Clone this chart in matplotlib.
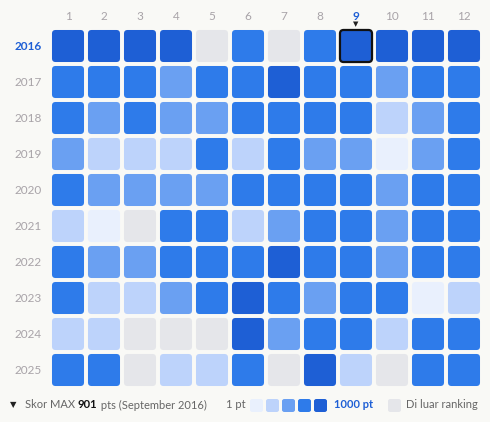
import matplotlib
matplotlib.use("Agg")
import matplotlib.pyplot as plt
from matplotlib.patches import FancyBboxPatch
import numpy as np

plt.rcParams['font.family'] = ['Lato', 'DejaVu Sans']
years = [2016, 2017, 2018, 2019, 2020, 2021, 2022, 2023, 2024, 2025]
months = [1, 2, 3, 4, 5, 6, 7, 8, 9, 10, 11, 12]
# level 0 = outside ranking, 1..5 = score bins (1 pt .. 1000 pt)
levels = [
    [5, 5, 5, 5, 0, 4, 0, 4, 5, 5, 5, 5],
    [4, 4, 4, 3, 4, 4, 5, 4, 4, 3, 4, 4],
    [4, 3, 4, 3, 3, 4, 4, 4, 4, 2, 3, 4],
    [3, 2, 2, 2, 4, 2, 4, 3, 3, 1, 3, 4],
    [4, 3, 3, 3, 3, 4, 4, 4, 4, 3, 4, 4],
    [2, 1, 0, 4, 4, 2, 3, 4, 4, 3, 4, 4],
    [4, 3, 3, 4, 4, 4, 5, 4, 4, 3, 4, 4],
    [4, 2, 2, 3, 4, 5, 4, 3, 4, 4, 1, 2],
    [2, 2, 0, 0, 0, 5, 3, 4, 4, 2, 4, 4],
    [4, 4, 0, 2, 2, 4, 0, 5, 2, 0, 4, 4],
]
max_year, max_month = 2016, 9
colors = ["#e5e6ea", "#e9f0fd", "#bdd3fb", "#6aa0f2", "#2e7bea", "#1e5fd5"]
bg = "#f9f9f6"
W, H = 490, 422
fig = plt.figure(figsize=(W/100, H/100), dpi=100, facecolor=bg)
ax = fig.add_axes([50/W, (H-388)/H, 432/W, 360/H])
ax.set_facecolor(bg)
ax.set_xlim(-0.5, 11.5); ax.set_ylim(len(years)-0.5, -0.5)
ax.axis("off")
s = 0.89
for r, y in enumerate(years):
    for c, m in enumerate(months):
        lv = levels[r][c]
        hl = (y == max_year and m == max_month)
        p = FancyBboxPatch((c - s/2, r - s/2), s, s,
                           boxstyle="round,pad=0,rounding_size=0.1",
                           fc=colors[lv], ec="#111111" if hl else "none",
                           lw=1.6 if hl else 0)
        ax.add_patch(p)
for c, m in enumerate(months):
    hl = m == max_month
    fig.text((50 + 36*c + 18)/W, 1 - 16/H, str(m), ha="center", va="center",
             fontsize=8.5, color="#1e5fd5" if hl else "#a8a3a8",
             fontweight="bold" if hl else "normal")
    if hl:
        fig.text((50 + 36*c + 18)/W, 1 - 24/H, "▼", ha="center", va="center",
                 fontsize=5, color="#222222", family="DejaVu Sans")
for r, y in enumerate(years):
    hl = y == max_year
    fig.text(42/W, 1 - (28 + 36*r + 18)/H, str(y), ha="right", va="center",
             fontsize=8.5, color="#1e5fd5" if hl else "#a8a3a8",
             fontweight="bold" if hl else "normal")
# legend
ly = 1 - 405/H
fig.text(10/W, ly, "▼", fontsize=6, color="#222", va="center", family="DejaVu Sans")
renderer = fig.canvas.get_renderer()
x = 25
for txt, col, wt in [("Skor MAX ", "#666", "normal"), ("901", "#111", "bold"),
                     (" pts (September 2016)", "#666", "normal")]:
    t = fig.text(x/W, ly, txt, fontsize=8, color=col, va="center", fontweight=wt)
    x += t.get_window_extent(renderer).width
fig.text(226/W, ly, "1 pt", fontsize=8, color="#666", va="center")
for i in range(1, 6):
    x0 = 250 + 16*(i-1)
    fig.patches.append(FancyBboxPatch((x0/W, (H-412)/H), 13/W, 13/H,
                       boxstyle="round,pad=0,rounding_size=0.005",
                       fc=colors[i], ec="none", transform=fig.transFigure))
fig.text(334/W, ly, "1000 pt", fontsize=8, color="#1e5fd5", va="center", fontweight="bold")
fig.patches.append(FancyBboxPatch((388/W, (H-412)/H), 13/W, 13/H,
                   boxstyle="round,pad=0,rounding_size=0.005",
                   fc=colors[0], ec="none", transform=fig.transFigure))
fig.text(406/W, ly, "Di luar ranking", fontsize=8, color="#666", va="center")
fig.savefig("out.png", dpi=100, facecolor=bg)
